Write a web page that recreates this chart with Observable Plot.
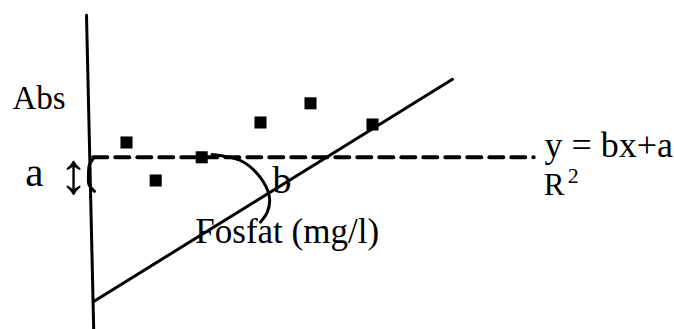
<!DOCTYPE html>
<html>
<head>
<meta charset="utf-8">
<script src="https://cdn.jsdelivr.net/npm/d3@7"></script>
<script src="https://cdn.jsdelivr.net/npm/@observablehq/plot@0.6"></script>
<style>
  html, body { margin: 0; padding: 0; background: #fff; }
  #chart svg { display: block; }
</style>
</head>
<body>
<div id="chart"></div>
<script>
// Data (schematic units: x = Fosfat, y = Abs)
const pointX = [0.9, 1.63, 2.78, 4.25, 5.5, 7.05];
const pointY = [3.95, 3.0, 3.58, 4.45, 4.93, 4.4];

const axisX = [-0.1, 0.08];
const axisY = [7.13, -0.73];

const fitX = [0.07, 9.05];
const fitY = [-0.03, 5.53];

const interceptX = [0.07, 11.08];
const interceptY = [3.58, 3.58];

const arcX = [3.04, 3.75, 4.17, 4.43, 4.48, 4.42, 4.25];
const arcY = [3.65, 3.5, 3.17, 2.75, 2.5, 2.21, 1.96];

const braceX = [0.07, -0.03, -0.05, -0.04, 0.1];
const braceY = [3.55, 3.38, 3.13, 2.9, 2.73];

const labelText = ["Abs", "a", "b", "Fosfat (mg/l)", "y = bx+a", "R", "2"];
const labelX = [-1.95, -1.63, 4.55, 2.62, 11.35, 11.33, 11.93];
const labelY = [4.78, 2.86, 2.7, 1.45, 3.6, 2.63, 2.93];
const labelSize = [33, 41, 38, 35, 36, 31, 22];

const arrowText = ["\u2195"];
const arrowX = [-0.42];
const arrowY = [3.15];
const arrowSize = [58];

const toRows = (xs, ys) => xs.map((x, i) => ({x, y: ys[i]}));
const labels = labelText.map((t, i) => ({text: t, x: labelX[i], y: labelY[i], size: labelSize[i]}));
const arrows = arrowText.map((t, i) => ({text: t, x: arrowX[i], y: arrowY[i], size: arrowSize[i]}));

const font = "'Liberation Serif', 'Times New Roman', serif";

const chart = Plot.plot({
  width: 674,
  height: 329,
  margin: 0,
  x: {domain: [-2.25, 14.6], axis: null},
  y: {domain: [-0.725, 7.5], axis: null},
  style: {background: "#fff", fontFamily: font},
  marks: [
    Plot.line(toRows(axisX, axisY), {x: "x", y: "y", stroke: "#000", strokeWidth: 3}),
    Plot.line(toRows(fitX, fitY), {x: "x", y: "y", stroke: "#000", strokeWidth: 3}),
    Plot.line(toRows(interceptX, interceptY), {x: "x", y: "y", stroke: "#000", strokeWidth: 4, strokeDasharray: "14,8"}),
    Plot.line(toRows(arcX, arcY), {x: "x", y: "y", stroke: "#000", strokeWidth: 3, curve: "catmull-rom"}),
    Plot.line(toRows(braceX, braceY), {x: "x", y: "y", stroke: "#000", strokeWidth: 3, curve: "catmull-rom"}),
    Plot.dot(toRows(pointX, pointY), {x: "x", y: "y", symbol: "square", r: 6.8, fill: "#000", stroke: null}),
    ...labels.map(d => Plot.text([d], {
      x: "x", y: "y", text: "text", fontSize: d.size, fill: "#000",
      textAnchor: "start", lineAnchor: "bottom", fontFamily: font
    })),
    ...arrows.map(d => Plot.text([d], {
      x: "x", y: "y", text: "text", fontSize: d.size, fill: "#000",
      textAnchor: "middle", lineAnchor: "middle", fontFamily: font
    }))
  ]
});
document.getElementById("chart").appendChild(chart);
</script>
</body>
</html>
